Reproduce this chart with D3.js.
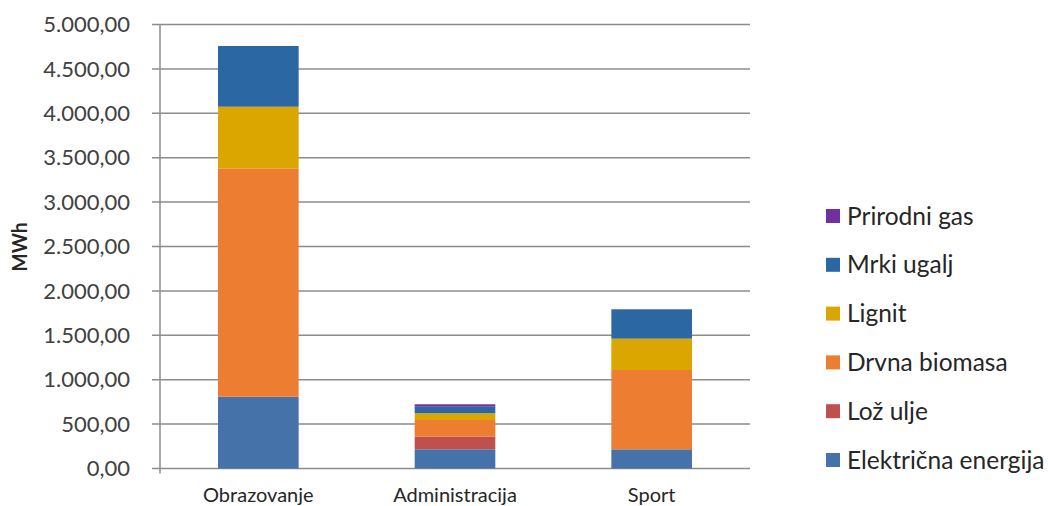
<!DOCTYPE html>
<html>
<head>
<meta charset="utf-8">
<script src="https://cdn.jsdelivr.net/npm/d3@7"></script>
<style>
  body { margin: 0; background: #fff; }
  svg { font-family: Lato, "Open Sans", sans-serif; }
</style>
</head>
<body>
<svg id="chart" width="1048" height="506"></svg>
<script>
// DATA
var categories = ["Obrazovanje", "Administracija", "Sport"];
var seriesNames = ["Električna energija", "Lož ulje", "Drvna biomasa", "Lignit", "Mrki ugalj", "Prirodni gas"];
var elektricna = [808, 216, 216];
var lozUlje = [0, 142, 0];
var drvnaBiomasa = [2572, 188, 893];
var lignit = [694, 76, 353];
var mrkiUgalj = [684, 74, 331];
var prirodniGas = [0, 27, 0];
var yTicks = [0, 500, 1000, 1500, 2000, 2500, 3000, 3500, 4000, 4500, 5000];

var colors = ["#4672AA", "#C0504D", "#EC7D31", "#DCA600", "#2B67A2", "#7030A0"];
var values = [elektricna, lozUlje, drvnaBiomasa, lignit, mrkiUgalj, prirodniGas];

const svg = d3.select("#chart");

var mLeft = 160, mRight = 750, mTop = 24.5, mBottom = 468.5;

var rows = categories.map((c, i) => {
    var r = { cat: c };
    seriesNames.forEach((s, j) => r[s] = values[j][i]);
    return r;
});
var stacked = d3.stack().keys(seriesNames)(rows);

// SCALES
var x = d3.scaleBand()
    .domain(categories)
    .range([mLeft, mRight])
    .paddingInner(0.59)
    .paddingOuter(0.295);

var y = d3.scaleLinear()
    .domain([0, 5000])
    .range([mBottom, mTop]);

var fmt = d => d3.format(",.2f")(d).replace(/,/g, "#").replace(".", ",").replace(/#/g, ".");

// grid lines
svg.append("g")
    .selectAll("line")
    .data(yTicks)
    .join("line")
    .attr("x1", mLeft - 8)
    .attr("x2", mRight)
    .attr("y1", d => y(d))
    .attr("y2", d => y(d))
    .attr("stroke", "#8c8c8c")
    .attr("stroke-width", 1.5);

// y axis line
svg.append("line")
    .attr("x1", mLeft).attr("x2", mLeft)
    .attr("y1", mTop).attr("y2", mBottom + 5)
    .attr("stroke", "#8c8c8c")
    .attr("stroke-width", 1.5);

// y tick labels
svg.append("g")
    .selectAll("text")
    .data(yTicks)
    .join("text")
    .attr("x", 130)
    .attr("y", d => y(d))
    .attr("dy", "0.35em")
    .attr("text-anchor", "end")
    .attr("font-size", 22)
    .attr("fill", "#404040")
    .text(fmt);

// axis title
svg.append("text")
    .attr("transform", "translate(27,247) rotate(-90)")
    .attr("text-anchor", "middle")
    .attr("font-size", 20)
    .attr("font-weight", "bold")
    .attr("fill", "#262626")
    .attr("textLength", 49)
    .attr("lengthAdjust", "spacingAndGlyphs")
    .text("MWh");

// bars
svg.append("g")
    .selectAll("g")
    .data(stacked)
    .join("g")
    .attr("fill", (d, i) => colors[i])
    .selectAll("rect")
    .data(d => d)
    .join("rect")
    .attr("x", d => x(d.data.cat))
    .attr("width", x.bandwidth())
    .attr("y", d => y(d[1]))
    .attr("height", d => y(d[0]) - y(d[1]));

// x labels
svg.append("g")
    .selectAll("text")
    .data(categories)
    .join("text")
    .attr("x", d => x(d) + x.bandwidth() / 2)
    .attr("y", 502)
    .attr("text-anchor", "middle")
    .attr("font-size", 20)
    .attr("fill", "#262626")
    .text(d => d);

// legend (top to bottom in reverse stack order)
var legend = svg.append("g")
    .selectAll("g")
    .data(seriesNames.map((s, i) => ({ name: s, color: colors[i] })).reverse())
    .join("g")
    .attr("transform", (d, i) => "translate(826," + (216 + i * 48.8) + ")");

legend.append("rect")
    .attr("x", 0).attr("y", -7)
    .attr("width", 14).attr("height", 14)
    .attr("fill", d => d.color);

legend.append("text")
    .attr("x", 21)
    .attr("dy", "0.35em")
    .attr("font-size", 24.5)
    .attr("fill", "#262626")
    .text(d => d.name);
</script>
</body>
</html>
